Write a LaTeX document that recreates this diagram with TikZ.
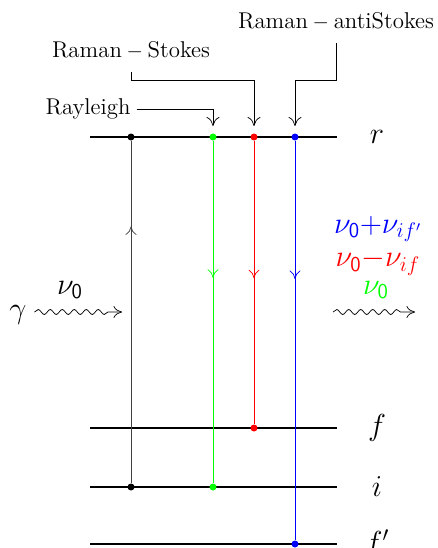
\documentclass[tikz,border=0pt]{standalone}
\usepackage{amsmath,amssymb}
\usetikzlibrary{arrows.meta,decorations.markings,decorations.pathmorphing,calc}
\tikzset{
  level/.style={
    line width = 1.3pt
  },
  dot/.style={
    shape = circle,
    inner sep = 0pt,
    minimum size = 0.14cm,
    fill
  },
  transition/.style={
    thin,
    decoration={markings, mark=at position #1 with {\arrow{Computer Modern Rightarrow[length=0.17cm, width=0.22cm]}}},
    postaction={decorate}
  },
  transition/.default=0.5,
  photon/.style={
    -{Computer Modern Rightarrow[length=0.17cm, width=0.24cm]},
    decorate,
    decoration={snake, amplitude=0.05cm, segment length=0.24cm, post length=0.2cm}
  },
  pointer/.style={
    -{Computer Modern Rightarrow[length=0.18cm, width=0.26cm]},
    thin
  },
  levellabel/.style={
    font=\LARGE
  },
  outlabel/.style={
    font=\fontsize{16.5}{18}\selectfont,
    inner sep=0pt
  },
  every picture/.style = {
    font=\fontsize{13}{15}\selectfont
  }
}

\begin{document}
\begin{tikzpicture}[x=0.02cm,y=-0.02cm]
            \useasboundingbox (0,0) rectangle (438,548);
            % energy levels
            \foreach \name/\y/\lab in {r/137/r, f/428/f, i/487/i, fp/544/f'}{
                    \coordinate (\name L) at (90,\y);
                    \coordinate (\name R) at (337,\y);
                    \draw[level] (\name L) -- (\name R);
                    \node[levellabel] (\name lab) at (377,\y) {$\lab$};
                }
            % end points of the transitions
            \node[dot, black] (rK) at (131,137) {};
            \node[dot, green] (rG) at (213,137) {};
            \node[dot, red] (rR) at (254,137) {};
            \node[dot, blue] (rB) at (295,137) {};
            \node[dot, black] (iK) at (131,487) {};
            \node[dot, green] (iG) at (213,487) {};
            \node[dot, red] (fR) at (254,428) {};
            \node[dot, blue] (fpB) at (295,544) {};
            % transitions
            \draw[transition=0.75, black!75] (iK) -- (rK);
            \draw[transition=0.4, green] (rG) -- (iG);
            \draw[transition=0.485, red] (rR) -- (fR);
            \draw[transition=0.346, blue] (rB) -- (fpB);
            % incoming and outgoing photons
            \node[levellabel] (gamma) at (18,315) {$\gamma$};
            \coordinate (inTip) at (122,312);
            \draw[photon] ([xshift=1pt]gamma.east |- inTip) -- (inTip);
            \node[levellabel] (nuIn) at (70,290) {$\nu_{\mathsf{0}}$};
            \coordinate (outTail) at (333,312);
            \coordinate (outTip) at (415,312);
            \draw[photon] (outTail) -- (outTip);
            \node[outlabel, blue] (nuAS) at (378,229) {$\nu_{\mathsf{0}}{+}\nu_{if'}$};
            \node[outlabel, red] (nuS) at (378,262) {$\nu_{\mathsf{0}}{-}\nu_{if}$};
            \node[outlabel, green] (nuR) at (376,290) {$\nu_{\mathsf{0}}$};
            % pointers to the scattering lines
            \node (rayleigh) at (88,109) {Rayleigh};
            \coordinate (aimG) at (213,126);
            \draw[pointer] (rayleigh.east) -| (aimG);
            \node (stokes) at (131,50) {Raman${}-{}$Stokes};
            \coordinate (aimR) at (254,126);
            \draw[pointer] ([yshift=-4pt]stokes.south) |- ($(aimR)+(0,-46)$) -- (aimR);
            \node (antistokes) at (336,21) {Raman${}-{}$antiStokes};
            \coordinate (aimB) at (295,126);
            \draw[pointer] ([yshift=-4pt]antistokes.south) |- ($(aimB)+(0,-46)$) -- (aimB);
        \end{tikzpicture}
\end{document}
